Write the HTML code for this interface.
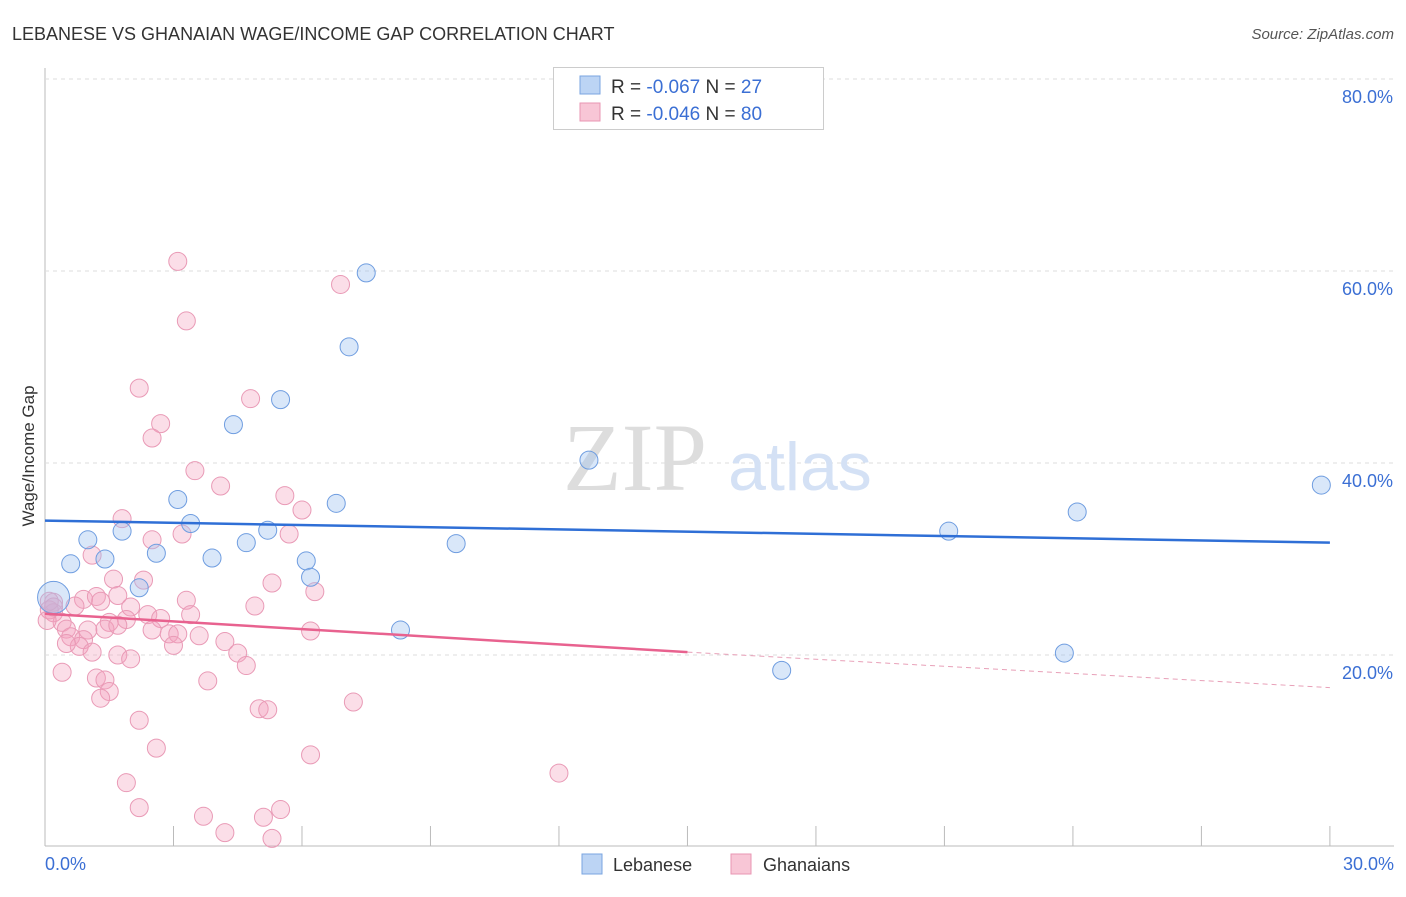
<!DOCTYPE html>
<html><head><meta charset="utf-8"><style>
body{margin:0;background:#fff;font-family:"Liberation Sans",sans-serif}
</style></head><body>
<svg width="1406" height="892" xmlns="http://www.w3.org/2000/svg">
<text x="12" y="40" font-size="18" fill="#333">LEBANESE VS GHANAIAN WAGE/INCOME GAP CORRELATION CHART</text>
<text x="1394" y="39" font-size="15" fill="#555" font-style="italic" text-anchor="end">Source: ZipAtlas.com</text>
<g id="grid"></g>
<text x="635" y="490" font-size="96" fill="#ddd" font-family="Liberation Serif" text-anchor="middle">ZIP</text>
<text x="800" y="490" font-size="68" fill="#d4e1f5" text-anchor="middle">atlas</text>
<g id="marks"></g>
<text transform="translate(34,456) rotate(-90)" font-size="17" fill="#333" text-anchor="middle">Wage/Income Gap</text>
<text x="45" y="870" font-size="18" fill="#3b6fd4">0.0%</text>
<text x="1394" y="870" font-size="18" fill="#3b6fd4" text-anchor="end">30.0%</text>
<g>
<rect x="553.5" y="67.5" width="270" height="62" fill="#fff" stroke="#ccc"/>
<rect x="580" y="76" width="20" height="18" fill="#bcd4f4" stroke="#7aa5e0"/>
<rect x="580" y="103" width="20" height="18" fill="#f8c6d6" stroke="#e896b3"/>
<text x="611" y="93" font-size="19" fill="#333">R = <tspan fill="#3b6fd4">-0.067</tspan>   N = <tspan fill="#3b6fd4"> 27</tspan></text>
<text x="611" y="120" font-size="19" fill="#333">R = <tspan fill="#3b6fd4">-0.046</tspan>   N = <tspan fill="#3b6fd4">80</tspan></text>
</g>
<g>
<rect x="582" y="854" width="20" height="20" fill="#bcd4f4" stroke="#7aa5e0"/>
<text x="613" y="871" font-size="18" fill="#333">Lebanese</text>
<rect x="731" y="854" width="20" height="20" fill="#f8c6d6" stroke="#e896b3"/>
<text x="763" y="871" font-size="18" fill="#333">Ghanaians</text>
</g>
</svg>
<script>
const yTicks=[20,40,60,80];
const xTicks=[3,6,9,12,15,18,21,24,27,30];
const lebX=[0.2,0.6,1.0,1.4,1.8,2.2,2.6,3.1,3.4,3.9,4.4,4.7,5.2,5.5,6.1,6.2,6.8,7.1,7.5,8.3,9.6,12.7,17.2,21.1,23.8,24.1,29.8];
const lebY=[26,29.5,32,30,32.9,27,30.6,36.2,33.7,30.1,44.0,31.7,33.0,46.6,29.8,28.1,35.8,52.1,59.8,22.6,31.6,40.3,18.4,32.9,20.2,34.9,37.7];
const ghX=[3.1,6.9,3.3,2.2,4.8,2.7,2.5,3.5,4.1,5.6,6.0,1.8,5.7,2.5,3.2,1.1,1.6,2.3,5.3,6.3,0.2,0.9,1.2,1.7,3.3,4.9,2.0,0.7,0.1,0.2,2.4,2.7,3.4,1.9,1.5,0.4,0.5,1.4,1.0,2.5,2.9,3.1,6.2,0.6,0.9,3.6,4.2,0.8,0.5,3.0,1.1,1.7,2.0,4.5,4.7,0.4,1.2,1.4,3.8,1.5,1.3,7.2,5.0,5.2,2.2,2.6,6.2,12.0,1.9,2.2,5.5,3.7,5.1,4.2,5.3,0.05,0.1,0.2,1.7,1.3];
const ghY=[61,58.6,54.8,47.8,46.7,44.1,42.6,39.2,37.6,36.6,35.1,34.2,32.6,32.0,32.6,30.4,27.9,27.8,27.5,26.6,25.5,25.8,26.1,26.2,25.7,25.1,25.0,25.1,24.7,24.4,24.2,23.8,24.2,23.7,23.4,23.4,22.7,22.7,22.6,22.6,22.2,22.2,22.5,21.9,21.6,22.0,21.4,20.9,21.2,21.0,20.3,20.0,19.6,20.2,18.9,18.2,17.6,17.4,17.3,16.2,15.5,15.1,14.4,14.3,13.2,10.3,9.6,7.7,6.7,4.1,3.9,3.2,3.1,1.5,0.9,23.6,25.6,25.0,23.1,25.6];
const lebTrend=[34.0,31.7];
const ghTrendSolid=[24.3,20.3];
const ghTrendEnd=[15,16.6];
const X=v=>45+v*42.83, Y=v=>847-v*9.6;
const NS='http://www.w3.org/2000/svg';
function mk(t,a,p){const e=document.createElementNS(NS,t);for(const k in a)e.setAttribute(k,a[k]);p.appendChild(e);return e;}
const g=document.getElementById('grid'), m=document.getElementById('marks');
mk('line',{x1:45,y1:68,x2:45,y2:846,stroke:'#bbb'},g);
mk('line',{x1:45,y1:846,x2:1394,y2:846,stroke:'#bbb'},g);
yTicks.forEach(t=>{
 const l=mk('line',{x1:45,y1:Y(t),x2:1394,y2:Y(t),stroke:'#ddd','stroke-dasharray':'4,4'},g);
 
 
 const tx=mk('text',{x:1393,y:Y(t)+24,'font-size':18,fill:'#3b6fd4','text-anchor':'end'},g);
 tx.textContent=t.toFixed(1)+'%';
 
 
});
xTicks.forEach(t=>{
 const l=mk('line',{x1:X(t),y1:826,x2:X(t),y2:846,stroke:'#bbb'},g);
 
 
});
ghX.forEach((x,i)=>{
 const c=mk('circle',{cx:X(x),cy:Y(ghY[i]),r:9,fill:'rgba(244,160,190,0.35)',stroke:'#e99ab6','stroke-width':1},m);
 
 
});
lebX.forEach((x,i)=>{
 const c=mk('circle',{cx:X(x),cy:Y(lebY[i]),r:i==0?16:9,fill:'rgba(160,195,240,0.4)',stroke:'#6f9de0','stroke-width':1},m);
 
 
});
let l=mk('line',{x1:X(0),y1:Y(lebTrend[0]),x2:X(30),y2:Y(lebTrend[1]),stroke:'#2f6fd6','stroke-width':2.5},m);


l=mk('line',{x1:X(0),y1:Y(ghTrendSolid[0]),x2:X(ghTrendEnd[0]),y2:Y(ghTrendSolid[1]),stroke:'#e8628f','stroke-width':2.5},m);


l=mk('line',{x1:X(ghTrendEnd[0]),y1:Y(ghTrendSolid[1]),x2:X(30),y2:Y(ghTrendEnd[1]),stroke:'#e8a0b8','stroke-width':1,'stroke-dasharray':'5,4'},m);


</script>
</body></html>
